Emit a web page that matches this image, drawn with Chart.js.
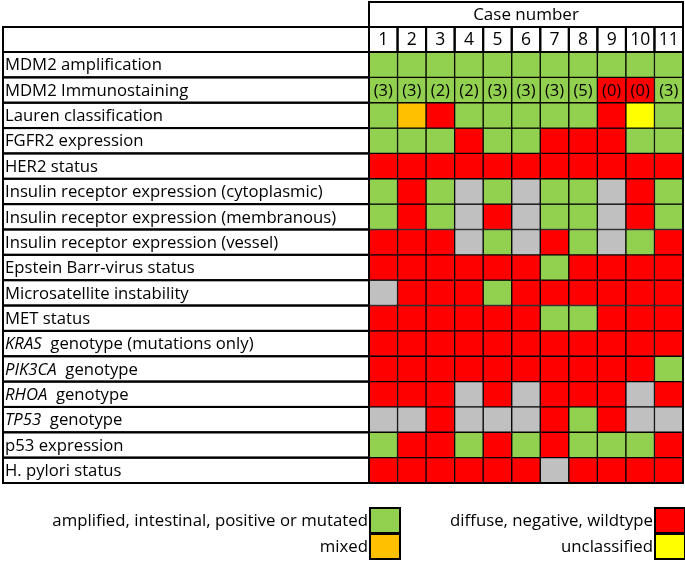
<!DOCTYPE html>
<html>
<head>
<meta charset="utf-8">
<script src="https://cdn.jsdelivr.net/npm/chart.js@4"></script>
<style>
  body { margin: 0; background: #fff; }
  canvas { display: block; }
</style>
</head>
<body>
<canvas id="grid" width="685" height="562"></canvas>
<script>
const cases = ['1', '2', '3', '4', '5', '6', '7', '8', '9', '10', '11'];

// italic gene name part of the row label (empty when none)
const rowGenes = ['', '', '', '', '', '', '', '', '', '', '', 'KRAS', 'PIK3CA', 'RHOA', 'TP53', '', ''];
const rowLabels = [
  'MDM2 amplification',
  'MDM2 Immunostaining',
  'Lauren classification',
  'FGFR2 expression',
  'HER2 status',
  'Insulin receptor expression (cytoplasmic)',
  'Insulin receptor expression (membranous)',
  'Insulin receptor expression (vessel)',
  'Epstein Barr-virus status',
  'Microsatellite instability',
  'MET status',
  'genotype (mutations only)',
  'genotype',
  'genotype',
  'genotype',
  'p53 expression',
  'H. pylori status'
];

// G positive/mutated, R negative/wildtype, O mixed, Y unclassified, N not available
const cellStatus = [
  'GGGGGGGGGGG',
  'GGGGGGGGRRG',
  'GORGGGGGRYG',
  'GGGRGGRRRGG',
  'RRRRRRRRRRR',
  'GRGNGNGGNRG',
  'GRGNRNGGNRG',
  'RRRNGNRGNGR',
  'RRRRRRGRRRR',
  'NRRRGRRRRRR',
  'RRRRRRGGRRR',
  'RRRRRRRRRRR',
  'RRRRRRRRRRG',
  'RRRNRNRRRNR',
  'NNRNNNRGRNN',
  'GRRGRGRGGGR',
  'RRRRRRNRRRR'
];

const immunoScores = ['(3)', '(3)', '(2)', '(2)', '(3)', '(3)', '(3)', '(5)', '(0)', '(0)', '(3)'];

const legendLabels = ['amplified, intestinal, positive or mutated', 'mixed', 'diffuse, negative, wildtype', 'unclassified'];
const legendCodes = ['G', 'O', 'R', 'Y'];

const statusColors = { G: '#92d050', R: '#ff0000', O: '#ffc000', Y: '#ffff00', N: '#c0c0c0' };
const FONT = '"Open Sans", Lato, sans-serif';

const tablePlugin = {
  id: 'tablePlugin',
  afterDraw(chart) {
    const ctx = chart.ctx;
    const a = chart.chartArea;
    const xs = chart.scales.x;
    const ys = chart.scales.y;
    const colW = (a.right - a.left) / cases.length;
    const left = 3;
    ctx.save();
    ctx.strokeStyle = '#000';
    ctx.lineWidth = 2;
    ctx.fillStyle = '#000';
    ctx.textBaseline = 'middle';

    // header
    ctx.strokeRect(a.left, 2, a.right - a.left, 25);
    ctx.font = '17px ' + FONT;
    ctx.textAlign = 'center';
    ctx.fillText('Case number', (a.left + a.right) / 2, 15);

    // case numbers
    ctx.font = '17.5px ' + FONT;
    cases.forEach((c, i) => {
      const x = xs.getPixelForValue(i);
      ctx.strokeRect(x - colW / 2, 27, colW, 25);
      ctx.fillText(c, x, 40);
    });
    ctx.strokeRect(left, 27, a.left - left, 25);

    // row labels
    ctx.textAlign = 'left';
    rowLabels.forEach((lab, r) => {
      const y0 = ys.getPixelForValue(r);
      const y1 = ys.getPixelForValue(r + 1);
      ctx.strokeRect(left, y0, a.left - left, y1 - y0);
      const ym = (y0 + y1) / 2 + 1;
      let x = left + 2;
      if (rowGenes[r]) {
        ctx.font = 'italic 16.7px ' + FONT;
        ctx.fillText(rowGenes[r], x, ym);
        x += ctx.measureText(rowGenes[r] + '  ').width;
      }
      ctx.font = '16.7px ' + FONT;
      ctx.fillText(lab, x, ym);
    });

    // immunostaining scores
    ctx.textAlign = 'center';
    ctx.font = '16.5px ' + FONT;
    chart.getDatasetMeta(1).data.forEach((bar, i) => {
      const p = bar.getCenterPoint();
      ctx.fillText(immunoScores[i], p.x, p.y + 1);
    });

    ctx.strokeRect(a.left, a.top, a.right - a.left, a.bottom - a.top);

    // legend
    const boxW = 30, boxH = 25;
    const slots = [[370, 508], [370, 534], [655, 508], [655, 534]];
    ctx.textAlign = 'right';
    ctx.font = '16.8px ' + FONT;
    legendLabels.forEach((lab, k) => {
      const [bx, by] = slots[k];
      ctx.fillStyle = statusColors[legendCodes[k]];
      ctx.fillRect(bx, by, boxW, boxH);
      ctx.strokeRect(bx, by, boxW, boxH);
      ctx.fillStyle = '#000';
      ctx.fillText(lab, bx - 2, by + boxH / 2 + 1);
    });
    ctx.restore();
  }
};

new Chart(document.getElementById('grid'), {
  type: 'bar',
  data: {
    labels: cases,
    datasets: rowLabels.map((lab, r) => ({
      label: lab,
      data: cases.map(() => 1),
      backgroundColor: cellStatus[r].split('').map(c => statusColors[c]),
      borderColor: '#000',
      borderWidth: 1,
      borderSkipped: false,
      barPercentage: 1,
      categoryPercentage: 1
    }))
  },
  options: {
    responsive: false,
    animation: false,
    layout: { padding: { left: 369, top: 52, right: 2, bottom: 79 } },
    plugins: { legend: { display: false }, tooltip: { enabled: false } },
    scales: {
      x: { display: false, stacked: true },
      y: { display: false, stacked: true, min: 0, max: 17, reverse: true }
    }
  },
  plugins: [tablePlugin]
});
</script>
</body>
</html>
